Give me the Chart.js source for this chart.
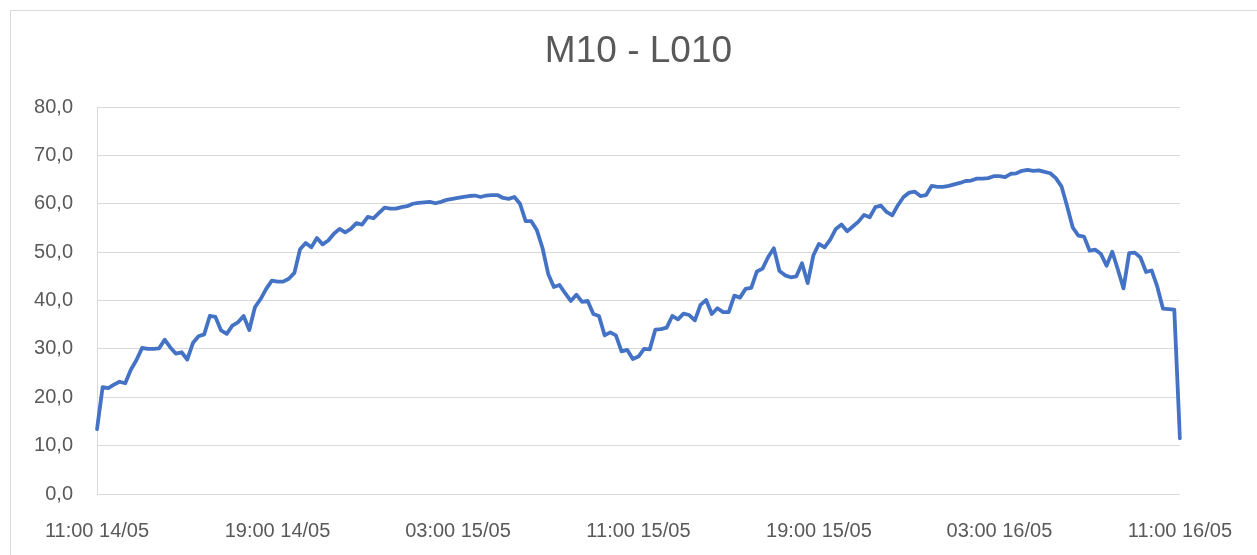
<!DOCTYPE html>
<html>
<head>
<meta charset="utf-8">
<script src="https://cdn.jsdelivr.net/npm/chart.js@4.4.1/dist/chart.umd.min.js"></script>
<style>
  html, body { margin: 0; padding: 0; background: #ffffff; }
  #wrap { width: 1257px; height: 555px; position: relative; }
  canvas { display: block; }
</style>
</head>
<body>
<div id="wrap"><canvas id="c" width="1257" height="555"></canvas></div>
<script>
// ---- DATA ----
const chartTitle = 'M10 - L010';
const startHour = 11;      // 11:00 14/05, one reading every 15 minutes
const startDay = 14;
const stepMinutes = 15;
const xTickLabels = ['11:00 14/05', '19:00 14/05', '03:00 15/05', '11:00 15/05', '19:00 15/05', '03:00 16/05', '11:00 16/05'];
const yTickValues = [0, 10, 20, 30, 40, 50, 60, 70, 80];
const values = [
  13.4, 22.1, 21.9, 22.6, 23.2, 22.9, 25.7, 27.7, 30.2, 30.0,
  30.0, 30.1, 31.9, 30.3, 29.0, 29.3, 27.8, 31.2, 32.6, 33.0,
  36.8, 36.6, 33.8, 33.1, 34.8, 35.5, 36.8, 33.9, 38.6, 40.3,
  42.4, 44.1, 43.9, 43.9, 44.5, 45.7, 50.6, 51.9, 51.0, 52.9,
  51.6, 52.4, 53.8, 54.8, 54.1, 54.8, 56.0, 55.7, 57.3, 57.0,
  58.1, 59.2, 59.0, 59.0, 59.3, 59.5, 60.0, 60.2, 60.3, 60.4,
  60.1, 60.4, 60.8, 61.0, 61.2, 61.4, 61.6, 61.7, 61.4, 61.7,
  61.8, 61.8, 61.2, 61.0, 61.4, 60.0, 56.4, 56.4, 54.5, 50.8,
  45.5, 42.8, 43.2, 41.5, 39.9, 41.2, 39.7, 39.9, 37.2, 36.8,
  32.8, 33.4, 32.8, 29.5, 29.8, 27.9, 28.4, 30.0, 29.9, 34.0,
  34.1, 34.4, 36.8, 36.1, 37.3, 37.0, 35.9, 39.1, 40.1, 37.2,
  38.4, 37.6, 37.6, 41.0, 40.6, 42.4, 42.6, 46.0, 46.6, 49.0,
  50.8, 46.1, 45.2, 44.8, 45.0, 47.7, 43.6, 49.3, 51.7, 51.0,
  52.6, 54.8, 55.7, 54.3, 55.3, 56.3, 57.7, 57.2, 59.3, 59.6,
  58.3, 57.6, 59.7, 61.4, 62.3, 62.5, 61.6, 61.8, 63.7, 63.5,
  63.5, 63.7, 64.0, 64.3, 64.7, 64.8, 65.2, 65.2, 65.3, 65.7,
  65.7, 65.5, 66.2, 66.3, 66.8, 67.0, 66.8, 66.9, 66.6, 66.3,
  65.3, 63.6, 59.5, 55.1, 53.4, 53.2, 50.3, 50.5, 49.6, 47.2,
  50.1, 46.4, 42.5, 49.8, 49.9, 48.9, 45.9, 46.2, 42.8, 38.3,
  38.2, 38.1, 11.5
];

// categories: timestamps of each reading
const pad2 = n => String(n).padStart(2, '0');
const categories = values.map((_, i) => {
  const m = startHour * 60 + i * stepMinutes;
  const d = startDay + Math.floor(m / 1440);
  const mm = m % 1440;
  return pad2(Math.floor(mm / 60)) + ':' + pad2(mm % 60) + ' ' + pad2(d) + '/05';
});
const tickEvery = (categories.length - 1) / (xTickLabels.length - 1);

const frame = {
  id: 'frame',
  beforeDraw(chart) {
    const ctx = chart.ctx;
    ctx.save();
    ctx.fillStyle = '#ffffff';
    ctx.fillRect(0, 0, chart.width, chart.height);
    ctx.strokeStyle = '#d9d9d9';
    ctx.lineWidth = 1;
    ctx.beginPath();
    ctx.moveTo(10.5, chart.height + 5);
    ctx.lineTo(10.5, 10.5);
    ctx.lineTo(chart.width + 5, 10.5);
    ctx.stroke();
    ctx.restore();
  },
  afterDraw(chart) {
    const ctx = chart.ctx;
    const a = chart.chartArea;
    ctx.save();
    ctx.fillStyle = '#595959';
    ctx.font = '37px "Liberation Sans", Arial, sans-serif';
    ctx.textAlign = 'center';
    ctx.textBaseline = 'middle';
    ctx.fillText(chartTitle, (a.left + a.right) / 2, 52);
    ctx.restore();
  }
};

new Chart(document.getElementById('c'), {
  type: 'line',
  data: {
    labels: categories,
    datasets: [{
      label: chartTitle,
      data: values,
      borderColor: '#4472C4',
      backgroundColor: '#4472C4',
      borderWidth: 3.8,
      pointRadius: 0,
      tension: 0,
      fill: false,
      borderJoinStyle: 'round',
      borderCapStyle: 'round'
    }]
  },
  options: {
    responsive: false,
    devicePixelRatio: 1,
    animation: false,
    layout: { padding: { left: 0, right: 73, top: 107, bottom: 0 } },
    plugins: { legend: { display: false }, title: { display: false }, tooltip: { enabled: false } },
    scales: {
      x: {
        type: 'category',
        offset: false,
        grid: { display: false, drawTicks: false },
        border: { display: true, color: '#d9d9d9', width: 1 },
        ticks: {
          autoSkip: false,
          maxRotation: 0,
          minRotation: 0,
          padding: 25,
          color: '#595959',
          font: { family: '"Liberation Sans", Arial, sans-serif', size: 20 },
          callback: (v, i) => (i % tickEvery === 0 ? xTickLabels[i / tickEvery] : null)
        },
        afterFit: s => { s.height = 61; }
      },
      y: {
        min: 0,
        max: 80,
        afterBuildTicks: s => { s.ticks = yTickValues.map(v => ({ value: v })); },
        grid: { color: '#d9d9d9', lineWidth: 1, drawTicks: false },
        border: { display: true, color: '#d9d9d9', width: 1 },
        ticks: {
          padding: 24,
          color: '#595959',
          font: { family: '"Liberation Sans", Arial, sans-serif', size: 20 },
          callback: v => v.toFixed(1).replace('.', ',')
        },
        afterFit: s => { s.width = 97; }
      }
    }
  },
  plugins: [frame]
});
</script>
</body>
</html>
